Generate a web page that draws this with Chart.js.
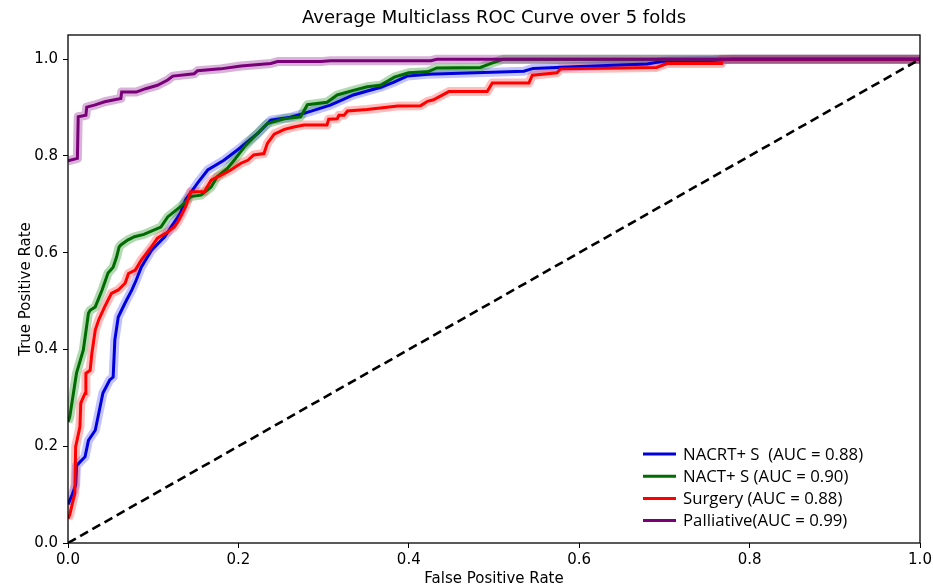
<!DOCTYPE html>
<html><head><meta charset="utf-8">
<script src="https://cdn.jsdelivr.net/npm/chart.js@4.4.1/dist/chart.umd.min.js"></script>
<style>html,body{margin:0;padding:0;background:#fff;} canvas{display:block;}</style>
</head><body>
<canvas id="c" width="933" height="587"></canvas>
<script>
// ---- text ----
const chartTitle = "Average Multiclass ROC Curve over 5 folds";
const xLabel = "False Positive Rate";
const yLabel = "True Positive Rate";
const xTicks = [0.0, 0.2, 0.4, 0.6, 0.8, 1.0];
const yTicks = [0.0, 0.2, 0.4, 0.6, 0.8, 1.0];
const seriesNames = ["NACRT+ S", "NACT+ S", "Surgery", "Palliative"];
const legendLabels = ["NACRT+ S  (AUC = 0.88)", "NACT+ S (AUC = 0.90)", "Surgery (AUC = 0.88)", "Palliative(AUC = 0.99)"];

// ---- data (mean ROC per class) ----
const fprNacrt = [0,0.005,0.009,0.010,0.020,0.024,0.032,0.041,0.049,0.053,0.055,0.059,0.067,0.075,0.080,0.086,0.098,0.113,0.132,0.138,0.152,0.164,0.183,0.203,0.223,0.238,0.261,0.277,0.308,0.335,0.367,0.382,0.398,0.422,0.535,0.546,0.601,0.680,0.699,0.757,0.780,1.0];
const tprNacrt = [0.08,0.10,0.12,0.16,0.178,0.212,0.233,0.31,0.337,0.343,0.42,0.467,0.496,0.523,0.543,0.57,0.605,0.632,0.682,0.709,0.744,0.771,0.791,0.818,0.847,0.874,0.880,0.888,0.905,0.926,0.942,0.952,0.965,0.969,0.975,0.981,0.985,0.990,0.996,0.998,1.0,1.0];

const fprNact = [0,0.002,0.010,0.018,0.024,0.026,0.032,0.040,0.047,0.053,0.057,0.060,0.062,0.070,0.078,0.089,0.109,0.117,0.132,0.144,0.156,0.168,0.175,0.187,0.195,0.207,0.222,0.234,0.254,0.273,0.281,0.304,0.316,0.336,0.351,0.367,0.383,0.400,0.422,0.433,0.484,0.496,0.511,1.0];
const tprNact = [0.25,0.26,0.351,0.399,0.475,0.481,0.488,0.523,0.558,0.570,0.591,0.612,0.616,0.626,0.633,0.638,0.653,0.674,0.695,0.716,0.719,0.736,0.757,0.774,0.791,0.819,0.846,0.867,0.877,0.881,0.906,0.911,0.926,0.936,0.943,0.946,0.963,0.972,0.974,0.982,0.983,0.991,1.0,1.0];

const fprSurgery = [0,0.002,0.008,0.009,0.014,0.015,0.020,0.021,0.026,0.028,0.032,0.036,0.043,0.051,0.059,0.067,0.071,0.079,0.086,0.098,0.105,0.117,0.125,0.130,0.138,0.142,0.144,0.160,0.168,0.179,0.191,0.203,0.211,0.218,0.230,0.234,0.242,0.254,0.265,0.277,0.304,0.306,0.316,0.318,0.324,0.328,0.351,0.387,0.414,0.422,0.429,0.447,0.492,0.498,0.541,0.545,0.574,0.578,0.691,0.703,0.767,0.767,1.0];
const tprSurgery = [0.05,0.058,0.103,0.199,0.240,0.289,0.309,0.351,0.357,0.392,0.440,0.461,0.488,0.516,0.523,0.537,0.557,0.564,0.585,0.612,0.630,0.643,0.654,0.667,0.695,0.716,0.726,0.726,0.750,0.760,0.771,0.785,0.791,0.802,0.805,0.826,0.845,0.855,0.860,0.864,0.864,0.876,0.877,0.884,0.884,0.893,0.896,0.903,0.904,0.913,0.916,0.933,0.933,0.951,0.951,0.967,0.972,0.980,0.983,0.991,0.991,1.0,1.0];

const fprPalliative = [0,0.011,0.012,0.021,0.022,0.031,0.043,0.062,0.063,0.080,0.091,0.105,0.117,0.123,0.148,0.152,0.179,0.203,0.238,0.246,0.297,0.308,0.426,0.433,1.0];
const tprPalliative = [0.79,0.795,0.881,0.884,0.901,0.905,0.912,0.919,0.932,0.932,0.939,0.946,0.957,0.965,0.970,0.976,0.980,0.986,0.991,0.995,0.995,0.997,0.997,1.0,1.0];

const chanceFpr = [0, 1];
const chanceTpr = [0, 1];

// ---- style ----
const lineColors = ["#0000dd", "#006b00", "#ff0000", "#7a007a"];
const bandColors = ["rgba(40,40,255,0.28)", "rgba(0,128,0,0.30)", "rgba(255,40,40,0.30)", "rgba(128,0,128,0.30)"];
const FONT = "'DejaVu Sans', sans-serif";

const pts = (xs, ys) => xs.map((x, i) => ({x: x, y: ys[i]}));
const series = [
  pts(fprNacrt, tprNacrt),
  pts(fprNact, tprNact),
  pts(fprSurgery, tprSurgery),
  pts(fprPalliative, tprPalliative)
];
const drawOrder = [4, 3, 2, 1]; // purple on top

const datasets = [];
series.forEach((d, i) => {
  datasets.push({label: '', data: d, borderColor: bandColors[i], borderWidth: 9,
    pointRadius: 0, tension: 0, fill: false, order: 20 + drawOrder[i], borderJoinStyle: 'round', borderCapStyle: 'butt'});
});
series.forEach((d, i) => {
  datasets.push({label: seriesNames[i], data: d, borderColor: lineColors[i], borderWidth: 3,
    pointRadius: 0, tension: 0, fill: false, order: drawOrder[i], borderJoinStyle: 'miter'});
});
datasets.push({label: 'chance', data: pts(chanceFpr, chanceTpr), borderColor: '#000', borderWidth: 2.6,
  borderDash: [9, 5], pointRadius: 0, fill: false, order: 0});

const decor = {
  id: 'decor',
  afterDraw(chart) {
    const {ctx, chartArea: a} = chart;
    ctx.save();
    // frame
    ctx.strokeStyle = '#000';
    ctx.lineWidth = 1.3;
    ctx.strokeRect(a.left, a.top, a.right - a.left, a.bottom - a.top);
    // title
    ctx.fillStyle = '#000';
    ctx.font = "18px " + FONT;
    ctx.textAlign = 'center';
    ctx.textBaseline = 'middle';
    ctx.fillText(chartTitle, (a.left + a.right) / 2, 18);
    // legend
    const lx = 643, ly = 454, dy = 22.2;
    ctx.font = "16.8px 'Open Sans', sans-serif";
    ctx.textAlign = 'left';
    legendLabels.forEach((t, i) => {
      const y = ly + i * dy;
      ctx.strokeStyle = lineColors[i];
      ctx.lineWidth = 3;
      ctx.beginPath(); ctx.moveTo(lx, y); ctx.lineTo(lx + 33, y); ctx.stroke();
      ctx.fillStyle = '#000';
      ctx.fillText(t, lx + 40, y + 1);
    });
    ctx.restore();
  }
};

new Chart(document.getElementById('c'), {
  type: 'line',
  data: {datasets},
  plugins: [decor],
  options: {
    responsive: false,
    animation: false,
    devicePixelRatio: 1,
    layout: {padding: {top: 35, right: 13, left: 0, bottom: 0}},
    plugins: {legend: {display: false}, title: {display: false}, tooltip: {enabled: false}},
    scales: {
      x: {
        type: 'linear', min: 0, max: 1.0,
        afterFit: s => { s.height = 44; s.paddingLeft = 0; s.paddingRight = 0; },
        afterBuildTicks: s => { s.ticks = xTicks.map(v => ({value: v})); },
        border: {display: false},
        grid: {drawOnChartArea: false, drawTicks: true, tickLength: 5, color: '#000', lineWidth: 1},
        ticks: {color: '#000', font: {family: FONT, size: 15}, padding: 3, maxRotation: 0,
          callback: v => Number(v).toFixed(1)},
        title: {display: true, text: xLabel, color: '#000', font: {family: FONT, size: 15, lineHeight: 1.0}, padding: {top: 0, bottom: 0}}
      },
      y: {
        type: 'linear', min: 0, max: 1.05,
        afterFit: s => { s.width = 68; s.paddingTop = 0; s.paddingBottom = 0; },
        afterBuildTicks: s => { s.ticks = yTicks.map(v => ({value: v})); },
        border: {display: false},
        grid: {drawOnChartArea: false, drawTicks: true, tickLength: 5, color: '#000', lineWidth: 1},
        ticks: {color: '#000', font: {family: FONT, size: 15}, padding: 5,
          callback: v => Number(v).toFixed(1)},
        title: {display: true, text: yLabel, color: '#000', font: {family: FONT, size: 15, lineHeight: 1.2}, padding: {top: 17, bottom: 0}}
      }
    }
  }
});
</script>
</body></html>
